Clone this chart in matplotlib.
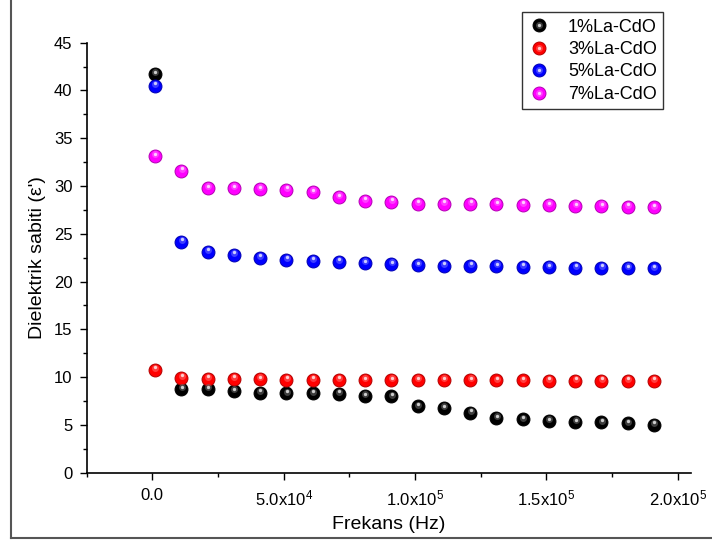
import matplotlib
matplotlib.use("Agg")
import matplotlib.pyplot as plt
import matplotlib.transforms as mtrans
from matplotlib.lines import Line2D
from matplotlib.legend_handler import HandlerTuple
from matplotlib.ticker import FixedLocator, MultipleLocator, FuncFormatter
import matplotlib.colors as mcolors

# ---------------- data ----------------
freq = [1000, 11000, 21000, 31000, 41000, 51000, 61000, 71000, 81000, 91000,
        101000, 111000, 121000, 131000, 141000, 151000, 161000, 171000, 181000, 191000]
la1 = [41.73, 8.74, 8.74, 8.56, 8.38, 8.30, 8.30, 8.27, 8.01, 7.98,
       6.93, 6.74, 6.27, 5.73, 5.58, 5.40, 5.29, 5.26, 5.15, 5.04]
la3 = [10.77, 9.93, 9.83, 9.83, 9.79, 9.75, 9.72, 9.72, 9.68, 9.68,
       9.68, 9.68, 9.68, 9.66, 9.66, 9.64, 9.64, 9.64, 9.64, 9.62]
la5 = [40.50, 24.18, 23.13, 22.80, 22.50, 22.30, 22.19, 22.08, 21.94, 21.83,
       21.72, 21.68, 21.65, 21.61, 21.54, 21.50, 21.46, 21.46, 21.43, 21.39]
la7 = [33.14, 31.60, 29.80, 29.80, 29.66, 29.62, 29.37, 28.83, 28.46, 28.35,
       28.17, 28.17, 28.14, 28.10, 28.06, 27.99, 27.92, 27.88, 27.85, 27.77]

series_names = ["1%La-CdO", "3%La-CdO", "5%La-CdO", "7%La-CdO"]
series_vals = [la1, la3, la5, la7]
series_colors = ["#000000", "#ff0000", "#0000ff", "#ff00ff"]

xtick_vals = [0, 50000, 100000, 150000, 200000]
xtick_labels = ["0.0", r"5.0x10$^{\mathregular{4}}$", r"1.0x10$^{\mathregular{5}}$",
                r"1.5x10$^{\mathregular{5}}$", r"2.0x10$^{\mathregular{5}}$"]
ytick_vals = [0, 5, 10, 15, 20, 25, 30, 35, 40, 45]

xlabel = "Frekans (Hz)"
ylabel = "Dielektrik sabiti (ε')"

# ---------------- style ----------------
plt.rcParams["font.family"] = ["Liberation Sans", "DejaVu Sans"]
plt.rcParams["mathtext.fontset"] = "custom"
plt.rcParams["mathtext.rm"] = "Liberation Sans"
plt.rcParams["mathtext.it"] = "Liberation Sans"

fig = plt.figure(figsize=(7.12, 5.45), dpi=100)
ax = fig.add_axes([86.7 / 712, 1 - 472.7 / 545, (690.7 - 86.7) / 712, (472.7 - 42.7) / 545])

hl_off = mtrans.offset_copy(ax.transData, fig=fig, x=0.4, y=1.8, units="dots")
hl_off2 = mtrans.offset_copy(ax.transData, fig=fig, x=0.4, y=2.4, units="dots")

handles = []
for name, vals, col in zip(series_names, series_vals, series_colors):
    rgb = mcolors.to_rgb(col)
    dark = tuple(c * 0.7 for c in rgb)
    light = tuple(c + (1 - c) * 0.4 for c in rgb)
    base, = ax.plot(freq, vals, linestyle="none", marker="o", markersize=9.3,
                    markerfacecolor=col, markeredgecolor=dark, markeredgewidth=0.7,
                    zorder=3, clip_on=False)
    mid, = ax.plot(freq, vals, linestyle="none", marker="o", markersize=5.0,
                   markerfacecolor=light, markeredgewidth=0, alpha=0.6,
                   transform=hl_off, zorder=4, clip_on=False)
    top, = ax.plot(freq, vals, linestyle="none", marker="o", markersize=2.4,
                   markerfacecolor="white", markeredgewidth=0, alpha=0.75,
                   transform=hl_off2, zorder=5, clip_on=False)
    handles.append((base, mid, top))

ax.set_xlim(-25000, 205000)
ax.set_ylim(0, 45)

ax.xaxis.set_major_locator(FixedLocator(xtick_vals))
ax.xaxis.set_major_formatter(FuncFormatter(lambda v, p: xtick_labels[xtick_vals.index(int(round(v)))]
                                           if int(round(v)) in xtick_vals else ""))
ax.xaxis.set_minor_locator(MultipleLocator(25000))
ax.yaxis.set_major_locator(FixedLocator(ytick_vals))
ax.yaxis.set_minor_locator(MultipleLocator(2.5))

for s in ["top", "right"]:
    ax.spines[s].set_visible(False)
for s in ["left", "bottom"]:
    ax.spines[s].set_linewidth(1.2)

ax.tick_params(which="major", direction="out", length=5.2, width=1.0, labelsize=12, pad=5)
ax.tick_params(which="minor", direction="out", length=3.0, width=1.0)
ax.tick_params(axis="x", which="major", pad=6)

ax.set_xlabel(xlabel, fontsize=14, labelpad=6)
ax.set_ylabel(ylabel, fontsize=14, labelpad=6)

leg = fig.legend(handles, series_names, loc="upper right",
                 bbox_to_anchor=(663.3 / 712, 1 - 12.3 / 545),
                 fontsize=13, frameon=True, fancybox=False, edgecolor="black",
                 handler_map={tuple: HandlerTuple(ndivide=1, pad=0)},
                 handlelength=1.2, handletextpad=1.0, labelspacing=0.3,
                 borderpad=0.35, borderaxespad=0)
leg.get_frame().set_linewidth(1.0)

# outer figure frame (left and bottom visible)
fig.add_artist(Line2D([11 / 712, 11 / 712], [1 - 537.7 / 545, 1.0], transform=fig.transFigure,
                      color="#555555", linewidth=1.5))
fig.add_artist(Line2D([11 / 712, 1.0], [1 - 537.7 / 545, 1 - 537.7 / 545], transform=fig.transFigure,
                      color="#555555", linewidth=1.5))

fig.savefig("out.png", dpi=100)
